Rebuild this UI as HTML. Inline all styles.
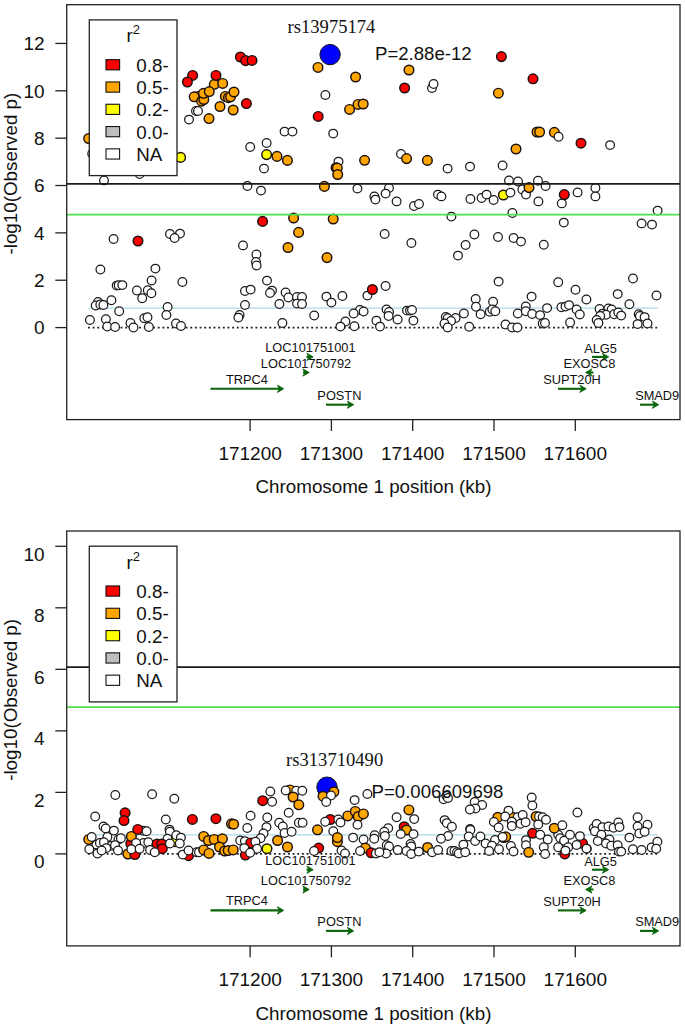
<!DOCTYPE html>
<html><head><meta charset="utf-8"><style>html,body{margin:0;padding:0;background:#fff;}svg{display:block;}</style></head>
<body><svg width="685" height="1028" viewBox="0 0 685 1028">
<rect width="685" height="1028" fill="#fff"/>
<line x1="88.5" x2="658" y1="308.18" y2="308.18" stroke="#add8e6" stroke-width="1.2"/>
<line x1="88.0" x2="658" y1="327.60" y2="327.60" stroke="#222" stroke-width="1.8" stroke-dasharray="1.9 2.75"/>
<circle cx="196.0" cy="111.0" r="4.35" fill="#fff" stroke="#1a1a1a" stroke-width="1.25"/>
<circle cx="198.0" cy="111.0" r="4.35" fill="#fff" stroke="#1a1a1a" stroke-width="1.25"/>
<circle cx="189.0" cy="119.6" r="4.35" fill="#fff" stroke="#1a1a1a" stroke-width="1.25"/>
<circle cx="92.2" cy="153.8" r="4.35" fill="#fff" stroke="#1a1a1a" stroke-width="1.25"/>
<circle cx="104.0" cy="180.4" r="4.35" fill="#fff" stroke="#1a1a1a" stroke-width="1.25"/>
<circle cx="139.6" cy="174.0" r="4.35" fill="#fff" stroke="#1a1a1a" stroke-width="1.25"/>
<circle cx="113.6" cy="239.0" r="4.35" fill="#fff" stroke="#1a1a1a" stroke-width="1.25"/>
<circle cx="170.0" cy="234.0" r="4.35" fill="#fff" stroke="#1a1a1a" stroke-width="1.25"/>
<circle cx="180.0" cy="233.6" r="4.35" fill="#fff" stroke="#1a1a1a" stroke-width="1.25"/>
<circle cx="174.6" cy="238.0" r="4.35" fill="#fff" stroke="#1a1a1a" stroke-width="1.25"/>
<circle cx="100.4" cy="269.4" r="4.35" fill="#fff" stroke="#1a1a1a" stroke-width="1.25"/>
<circle cx="155.4" cy="268.6" r="4.35" fill="#fff" stroke="#1a1a1a" stroke-width="1.25"/>
<circle cx="151.6" cy="280.5" r="4.35" fill="#fff" stroke="#1a1a1a" stroke-width="1.25"/>
<circle cx="182.4" cy="282.0" r="4.35" fill="#fff" stroke="#1a1a1a" stroke-width="1.25"/>
<circle cx="116.7" cy="285.6" r="4.35" fill="#fff" stroke="#1a1a1a" stroke-width="1.25"/>
<circle cx="118.7" cy="285.3" r="4.35" fill="#fff" stroke="#1a1a1a" stroke-width="1.25"/>
<circle cx="122.3" cy="285.1" r="4.35" fill="#fff" stroke="#1a1a1a" stroke-width="1.25"/>
<circle cx="136.9" cy="290.4" r="4.35" fill="#fff" stroke="#1a1a1a" stroke-width="1.25"/>
<circle cx="147.8" cy="290.2" r="4.35" fill="#fff" stroke="#1a1a1a" stroke-width="1.25"/>
<circle cx="151.4" cy="293.3" r="4.35" fill="#fff" stroke="#1a1a1a" stroke-width="1.25"/>
<circle cx="142.2" cy="298.2" r="4.35" fill="#fff" stroke="#1a1a1a" stroke-width="1.25"/>
<circle cx="111.4" cy="300.2" r="4.35" fill="#fff" stroke="#1a1a1a" stroke-width="1.25"/>
<circle cx="98.1" cy="302.0" r="4.35" fill="#fff" stroke="#1a1a1a" stroke-width="1.25"/>
<circle cx="95.7" cy="305.5" r="4.35" fill="#fff" stroke="#1a1a1a" stroke-width="1.25"/>
<circle cx="100.3" cy="304.5" r="4.35" fill="#fff" stroke="#1a1a1a" stroke-width="1.25"/>
<circle cx="103.4" cy="305.0" r="4.35" fill="#fff" stroke="#1a1a1a" stroke-width="1.25"/>
<circle cx="167.6" cy="307.0" r="4.35" fill="#fff" stroke="#1a1a1a" stroke-width="1.25"/>
<circle cx="119.2" cy="311.2" r="4.35" fill="#fff" stroke="#1a1a1a" stroke-width="1.25"/>
<circle cx="166.4" cy="315.0" r="4.35" fill="#fff" stroke="#1a1a1a" stroke-width="1.25"/>
<circle cx="89.9" cy="319.9" r="4.35" fill="#fff" stroke="#1a1a1a" stroke-width="1.25"/>
<circle cx="105.9" cy="319.3" r="4.35" fill="#fff" stroke="#1a1a1a" stroke-width="1.25"/>
<circle cx="107.3" cy="326.5" r="4.35" fill="#fff" stroke="#1a1a1a" stroke-width="1.25"/>
<circle cx="115.1" cy="327.0" r="4.35" fill="#fff" stroke="#1a1a1a" stroke-width="1.25"/>
<circle cx="130.5" cy="322.9" r="4.35" fill="#fff" stroke="#1a1a1a" stroke-width="1.25"/>
<circle cx="133.5" cy="327.5" r="4.35" fill="#fff" stroke="#1a1a1a" stroke-width="1.25"/>
<circle cx="144.3" cy="318.3" r="4.35" fill="#fff" stroke="#1a1a1a" stroke-width="1.25"/>
<circle cx="147.5" cy="317.3" r="4.35" fill="#fff" stroke="#1a1a1a" stroke-width="1.25"/>
<circle cx="148.9" cy="327.0" r="4.35" fill="#fff" stroke="#1a1a1a" stroke-width="1.25"/>
<circle cx="176.0" cy="323.4" r="4.35" fill="#fff" stroke="#1a1a1a" stroke-width="1.25"/>
<circle cx="181.0" cy="326.0" r="4.35" fill="#fff" stroke="#1a1a1a" stroke-width="1.25"/>
<circle cx="284.6" cy="131.6" r="4.35" fill="#fff" stroke="#1a1a1a" stroke-width="1.25"/>
<circle cx="292.4" cy="131.6" r="4.35" fill="#fff" stroke="#1a1a1a" stroke-width="1.25"/>
<circle cx="266.6" cy="143.0" r="4.35" fill="#fff" stroke="#1a1a1a" stroke-width="1.25"/>
<circle cx="250.2" cy="147.0" r="4.35" fill="#fff" stroke="#1a1a1a" stroke-width="1.25"/>
<circle cx="264.0" cy="168.6" r="4.35" fill="#fff" stroke="#1a1a1a" stroke-width="1.25"/>
<circle cx="432.0" cy="88.0" r="4.35" fill="#fff" stroke="#1a1a1a" stroke-width="1.25"/>
<circle cx="433.6" cy="84.0" r="4.35" fill="#fff" stroke="#1a1a1a" stroke-width="1.25"/>
<circle cx="325.4" cy="95.0" r="4.35" fill="#fff" stroke="#1a1a1a" stroke-width="1.25"/>
<circle cx="333.2" cy="133.6" r="4.35" fill="#fff" stroke="#1a1a1a" stroke-width="1.25"/>
<circle cx="338.5" cy="161.6" r="4.35" fill="#fff" stroke="#1a1a1a" stroke-width="1.25"/>
<circle cx="401.0" cy="154.0" r="4.35" fill="#fff" stroke="#1a1a1a" stroke-width="1.25"/>
<circle cx="357.4" cy="188.6" r="4.35" fill="#fff" stroke="#1a1a1a" stroke-width="1.25"/>
<circle cx="389.0" cy="188.0" r="4.35" fill="#fff" stroke="#1a1a1a" stroke-width="1.25"/>
<circle cx="385.6" cy="193.6" r="4.35" fill="#fff" stroke="#1a1a1a" stroke-width="1.25"/>
<circle cx="374.4" cy="196.4" r="4.35" fill="#fff" stroke="#1a1a1a" stroke-width="1.25"/>
<circle cx="375.4" cy="199.6" r="4.35" fill="#fff" stroke="#1a1a1a" stroke-width="1.25"/>
<circle cx="396.6" cy="201.4" r="4.35" fill="#fff" stroke="#1a1a1a" stroke-width="1.25"/>
<circle cx="414.0" cy="206.0" r="4.35" fill="#fff" stroke="#1a1a1a" stroke-width="1.25"/>
<circle cx="419.0" cy="204.0" r="4.35" fill="#fff" stroke="#1a1a1a" stroke-width="1.25"/>
<circle cx="247.4" cy="186.0" r="4.35" fill="#fff" stroke="#1a1a1a" stroke-width="1.25"/>
<circle cx="261.0" cy="190.6" r="4.35" fill="#fff" stroke="#1a1a1a" stroke-width="1.25"/>
<circle cx="243.0" cy="245.4" r="4.35" fill="#fff" stroke="#1a1a1a" stroke-width="1.25"/>
<circle cx="256.4" cy="254.4" r="4.35" fill="#fff" stroke="#1a1a1a" stroke-width="1.25"/>
<circle cx="256.0" cy="262.0" r="4.35" fill="#fff" stroke="#1a1a1a" stroke-width="1.25"/>
<circle cx="256.6" cy="265.4" r="4.35" fill="#fff" stroke="#1a1a1a" stroke-width="1.25"/>
<circle cx="267.0" cy="280.6" r="4.35" fill="#fff" stroke="#1a1a1a" stroke-width="1.25"/>
<circle cx="245.0" cy="291.0" r="4.35" fill="#fff" stroke="#1a1a1a" stroke-width="1.25"/>
<circle cx="250.6" cy="289.6" r="4.35" fill="#fff" stroke="#1a1a1a" stroke-width="1.25"/>
<circle cx="272.0" cy="290.6" r="4.35" fill="#fff" stroke="#1a1a1a" stroke-width="1.25"/>
<circle cx="270.0" cy="293.0" r="4.35" fill="#fff" stroke="#1a1a1a" stroke-width="1.25"/>
<circle cx="285.6" cy="292.4" r="4.35" fill="#fff" stroke="#1a1a1a" stroke-width="1.25"/>
<circle cx="288.4" cy="297.4" r="4.35" fill="#fff" stroke="#1a1a1a" stroke-width="1.25"/>
<circle cx="297.0" cy="297.0" r="4.35" fill="#fff" stroke="#1a1a1a" stroke-width="1.25"/>
<circle cx="302.0" cy="297.0" r="4.35" fill="#fff" stroke="#1a1a1a" stroke-width="1.25"/>
<circle cx="297.0" cy="303.6" r="4.35" fill="#fff" stroke="#1a1a1a" stroke-width="1.25"/>
<circle cx="302.0" cy="304.0" r="4.35" fill="#fff" stroke="#1a1a1a" stroke-width="1.25"/>
<circle cx="245.0" cy="305.0" r="4.35" fill="#fff" stroke="#1a1a1a" stroke-width="1.25"/>
<circle cx="279.4" cy="304.0" r="4.35" fill="#fff" stroke="#1a1a1a" stroke-width="1.25"/>
<circle cx="239.6" cy="315.0" r="4.35" fill="#fff" stroke="#1a1a1a" stroke-width="1.25"/>
<circle cx="238.4" cy="317.6" r="4.35" fill="#fff" stroke="#1a1a1a" stroke-width="1.25"/>
<circle cx="314.2" cy="315.4" r="4.35" fill="#fff" stroke="#1a1a1a" stroke-width="1.25"/>
<circle cx="282.4" cy="323.0" r="4.35" fill="#fff" stroke="#1a1a1a" stroke-width="1.25"/>
<circle cx="451.4" cy="216.6" r="4.35" fill="#fff" stroke="#1a1a1a" stroke-width="1.25"/>
<circle cx="384.6" cy="234.0" r="4.35" fill="#fff" stroke="#1a1a1a" stroke-width="1.25"/>
<circle cx="411.4" cy="243.0" r="4.35" fill="#fff" stroke="#1a1a1a" stroke-width="1.25"/>
<circle cx="385.6" cy="286.0" r="4.35" fill="#fff" stroke="#1a1a1a" stroke-width="1.25"/>
<circle cx="367.4" cy="295.6" r="4.35" fill="#fff" stroke="#1a1a1a" stroke-width="1.25"/>
<circle cx="326.4" cy="296.6" r="4.35" fill="#fff" stroke="#1a1a1a" stroke-width="1.25"/>
<circle cx="331.4" cy="302.6" r="4.35" fill="#fff" stroke="#1a1a1a" stroke-width="1.25"/>
<circle cx="342.4" cy="296.0" r="4.35" fill="#fff" stroke="#1a1a1a" stroke-width="1.25"/>
<circle cx="360.0" cy="310.0" r="4.35" fill="#fff" stroke="#1a1a1a" stroke-width="1.25"/>
<circle cx="363.6" cy="311.4" r="4.35" fill="#fff" stroke="#1a1a1a" stroke-width="1.25"/>
<circle cx="353.6" cy="313.4" r="4.35" fill="#fff" stroke="#1a1a1a" stroke-width="1.25"/>
<circle cx="386.6" cy="309.4" r="4.35" fill="#fff" stroke="#1a1a1a" stroke-width="1.25"/>
<circle cx="389.0" cy="312.0" r="4.35" fill="#fff" stroke="#1a1a1a" stroke-width="1.25"/>
<circle cx="388.6" cy="316.0" r="4.35" fill="#fff" stroke="#1a1a1a" stroke-width="1.25"/>
<circle cx="397.6" cy="319.4" r="4.35" fill="#fff" stroke="#1a1a1a" stroke-width="1.25"/>
<circle cx="407.0" cy="310.6" r="4.35" fill="#fff" stroke="#1a1a1a" stroke-width="1.25"/>
<circle cx="410.0" cy="310.6" r="4.35" fill="#fff" stroke="#1a1a1a" stroke-width="1.25"/>
<circle cx="412.0" cy="310.0" r="4.35" fill="#fff" stroke="#1a1a1a" stroke-width="1.25"/>
<circle cx="413.4" cy="320.6" r="4.35" fill="#fff" stroke="#1a1a1a" stroke-width="1.25"/>
<circle cx="345.4" cy="321.4" r="4.35" fill="#fff" stroke="#1a1a1a" stroke-width="1.25"/>
<circle cx="340.4" cy="326.6" r="4.35" fill="#fff" stroke="#1a1a1a" stroke-width="1.25"/>
<circle cx="354.4" cy="326.2" r="4.35" fill="#fff" stroke="#1a1a1a" stroke-width="1.25"/>
<circle cx="376.4" cy="320.6" r="4.35" fill="#fff" stroke="#1a1a1a" stroke-width="1.25"/>
<circle cx="380.0" cy="326.6" r="4.35" fill="#fff" stroke="#1a1a1a" stroke-width="1.25"/>
<circle cx="445.8" cy="316.9" r="4.35" fill="#fff" stroke="#1a1a1a" stroke-width="1.25"/>
<circle cx="447.7" cy="318.2" r="4.35" fill="#fff" stroke="#1a1a1a" stroke-width="1.25"/>
<circle cx="455.6" cy="317.9" r="4.35" fill="#fff" stroke="#1a1a1a" stroke-width="1.25"/>
<circle cx="451.0" cy="320.9" r="4.35" fill="#fff" stroke="#1a1a1a" stroke-width="1.25"/>
<circle cx="444.5" cy="323.5" r="4.35" fill="#fff" stroke="#1a1a1a" stroke-width="1.25"/>
<circle cx="447.7" cy="327.4" r="4.35" fill="#fff" stroke="#1a1a1a" stroke-width="1.25"/>
<circle cx="463.9" cy="313.4" r="4.35" fill="#fff" stroke="#1a1a1a" stroke-width="1.25"/>
<circle cx="469.2" cy="326.8" r="4.35" fill="#fff" stroke="#1a1a1a" stroke-width="1.25"/>
<circle cx="475.7" cy="298.9" r="4.35" fill="#fff" stroke="#1a1a1a" stroke-width="1.25"/>
<circle cx="476.0" cy="306.8" r="4.35" fill="#fff" stroke="#1a1a1a" stroke-width="1.25"/>
<circle cx="480.6" cy="314.3" r="4.35" fill="#fff" stroke="#1a1a1a" stroke-width="1.25"/>
<circle cx="493.1" cy="301.8" r="4.35" fill="#fff" stroke="#1a1a1a" stroke-width="1.25"/>
<circle cx="489.8" cy="311.7" r="4.35" fill="#fff" stroke="#1a1a1a" stroke-width="1.25"/>
<circle cx="492.4" cy="309.4" r="4.35" fill="#fff" stroke="#1a1a1a" stroke-width="1.25"/>
<circle cx="495.3" cy="311.3" r="4.35" fill="#fff" stroke="#1a1a1a" stroke-width="1.25"/>
<circle cx="505.5" cy="324.4" r="4.35" fill="#fff" stroke="#1a1a1a" stroke-width="1.25"/>
<circle cx="512.1" cy="327.4" r="4.35" fill="#fff" stroke="#1a1a1a" stroke-width="1.25"/>
<circle cx="517.4" cy="327.4" r="4.35" fill="#fff" stroke="#1a1a1a" stroke-width="1.25"/>
<circle cx="517.8" cy="313.4" r="4.35" fill="#fff" stroke="#1a1a1a" stroke-width="1.25"/>
<circle cx="610.1" cy="145.1" r="4.35" fill="#fff" stroke="#1a1a1a" stroke-width="1.25"/>
<circle cx="502.6" cy="165.5" r="4.35" fill="#fff" stroke="#1a1a1a" stroke-width="1.25"/>
<circle cx="509.0" cy="180.5" r="4.35" fill="#fff" stroke="#1a1a1a" stroke-width="1.25"/>
<circle cx="518.0" cy="181.5" r="4.35" fill="#fff" stroke="#1a1a1a" stroke-width="1.25"/>
<circle cx="538.0" cy="180.8" r="4.35" fill="#fff" stroke="#1a1a1a" stroke-width="1.25"/>
<circle cx="447.6" cy="168.6" r="4.35" fill="#fff" stroke="#1a1a1a" stroke-width="1.25"/>
<circle cx="470.0" cy="166.6" r="4.35" fill="#fff" stroke="#1a1a1a" stroke-width="1.25"/>
<circle cx="545.6" cy="186.0" r="4.35" fill="#fff" stroke="#1a1a1a" stroke-width="1.25"/>
<circle cx="522.4" cy="189.4" r="4.35" fill="#fff" stroke="#1a1a1a" stroke-width="1.25"/>
<circle cx="526.0" cy="194.6" r="4.35" fill="#fff" stroke="#1a1a1a" stroke-width="1.25"/>
<circle cx="438.0" cy="194.6" r="4.35" fill="#fff" stroke="#1a1a1a" stroke-width="1.25"/>
<circle cx="441.4" cy="196.4" r="4.35" fill="#fff" stroke="#1a1a1a" stroke-width="1.25"/>
<circle cx="470.4" cy="199.0" r="4.35" fill="#fff" stroke="#1a1a1a" stroke-width="1.25"/>
<circle cx="481.6" cy="198.0" r="4.35" fill="#fff" stroke="#1a1a1a" stroke-width="1.25"/>
<circle cx="486.6" cy="194.6" r="4.35" fill="#fff" stroke="#1a1a1a" stroke-width="1.25"/>
<circle cx="493.6" cy="200.0" r="4.35" fill="#fff" stroke="#1a1a1a" stroke-width="1.25"/>
<circle cx="538.4" cy="201.4" r="4.35" fill="#fff" stroke="#1a1a1a" stroke-width="1.25"/>
<circle cx="561.8" cy="203.4" r="4.35" fill="#fff" stroke="#1a1a1a" stroke-width="1.25"/>
<circle cx="512.4" cy="213.0" r="4.35" fill="#fff" stroke="#1a1a1a" stroke-width="1.25"/>
<circle cx="563.8" cy="222.6" r="4.35" fill="#fff" stroke="#1a1a1a" stroke-width="1.25"/>
<circle cx="474.4" cy="234.5" r="4.35" fill="#fff" stroke="#1a1a1a" stroke-width="1.25"/>
<circle cx="498.0" cy="237.0" r="4.35" fill="#fff" stroke="#1a1a1a" stroke-width="1.25"/>
<circle cx="513.6" cy="238.0" r="4.35" fill="#fff" stroke="#1a1a1a" stroke-width="1.25"/>
<circle cx="521.0" cy="241.6" r="4.35" fill="#fff" stroke="#1a1a1a" stroke-width="1.25"/>
<circle cx="465.6" cy="245.0" r="4.35" fill="#fff" stroke="#1a1a1a" stroke-width="1.25"/>
<circle cx="458.0" cy="255.6" r="4.35" fill="#fff" stroke="#1a1a1a" stroke-width="1.25"/>
<circle cx="543.8" cy="244.8" r="4.35" fill="#fff" stroke="#1a1a1a" stroke-width="1.25"/>
<circle cx="498.6" cy="281.6" r="4.35" fill="#fff" stroke="#1a1a1a" stroke-width="1.25"/>
<circle cx="558.2" cy="282.2" r="4.35" fill="#fff" stroke="#1a1a1a" stroke-width="1.25"/>
<circle cx="531.6" cy="296.6" r="4.35" fill="#fff" stroke="#1a1a1a" stroke-width="1.25"/>
<circle cx="577.6" cy="192.4" r="4.35" fill="#fff" stroke="#1a1a1a" stroke-width="1.25"/>
<circle cx="595.4" cy="188.0" r="4.35" fill="#fff" stroke="#1a1a1a" stroke-width="1.25"/>
<circle cx="595.4" cy="196.4" r="4.35" fill="#fff" stroke="#1a1a1a" stroke-width="1.25"/>
<circle cx="657.6" cy="210.6" r="4.35" fill="#fff" stroke="#1a1a1a" stroke-width="1.25"/>
<circle cx="641.6" cy="223.4" r="4.35" fill="#fff" stroke="#1a1a1a" stroke-width="1.25"/>
<circle cx="652.0" cy="224.6" r="4.35" fill="#fff" stroke="#1a1a1a" stroke-width="1.25"/>
<circle cx="633.0" cy="278.5" r="4.35" fill="#fff" stroke="#1a1a1a" stroke-width="1.25"/>
<circle cx="617.7" cy="294.1" r="4.35" fill="#fff" stroke="#1a1a1a" stroke-width="1.25"/>
<circle cx="656.5" cy="295.5" r="4.35" fill="#fff" stroke="#1a1a1a" stroke-width="1.25"/>
<circle cx="586.4" cy="299.5" r="4.35" fill="#fff" stroke="#1a1a1a" stroke-width="1.25"/>
<circle cx="575.5" cy="289.7" r="4.35" fill="#fff" stroke="#1a1a1a" stroke-width="1.25"/>
<circle cx="629.4" cy="304.3" r="4.35" fill="#fff" stroke="#1a1a1a" stroke-width="1.25"/>
<circle cx="599.6" cy="308.9" r="4.35" fill="#fff" stroke="#1a1a1a" stroke-width="1.25"/>
<circle cx="608.4" cy="308.4" r="4.35" fill="#fff" stroke="#1a1a1a" stroke-width="1.25"/>
<circle cx="611.6" cy="309.5" r="4.35" fill="#fff" stroke="#1a1a1a" stroke-width="1.25"/>
<circle cx="602.5" cy="313.6" r="4.35" fill="#fff" stroke="#1a1a1a" stroke-width="1.25"/>
<circle cx="606.0" cy="314.8" r="4.35" fill="#fff" stroke="#1a1a1a" stroke-width="1.25"/>
<circle cx="600.2" cy="316.0" r="4.35" fill="#fff" stroke="#1a1a1a" stroke-width="1.25"/>
<circle cx="614.2" cy="314.2" r="4.35" fill="#fff" stroke="#1a1a1a" stroke-width="1.25"/>
<circle cx="618.3" cy="312.4" r="4.35" fill="#fff" stroke="#1a1a1a" stroke-width="1.25"/>
<circle cx="621.2" cy="315.6" r="4.35" fill="#fff" stroke="#1a1a1a" stroke-width="1.25"/>
<circle cx="596.7" cy="320.0" r="4.35" fill="#fff" stroke="#1a1a1a" stroke-width="1.25"/>
<circle cx="598.4" cy="323.0" r="4.35" fill="#fff" stroke="#1a1a1a" stroke-width="1.25"/>
<circle cx="638.7" cy="314.2" r="4.35" fill="#fff" stroke="#1a1a1a" stroke-width="1.25"/>
<circle cx="639.9" cy="315.9" r="4.35" fill="#fff" stroke="#1a1a1a" stroke-width="1.25"/>
<circle cx="644.6" cy="317.1" r="4.35" fill="#fff" stroke="#1a1a1a" stroke-width="1.25"/>
<circle cx="637.6" cy="324.1" r="4.35" fill="#fff" stroke="#1a1a1a" stroke-width="1.25"/>
<circle cx="647.5" cy="323.5" r="4.35" fill="#fff" stroke="#1a1a1a" stroke-width="1.25"/>
<circle cx="525.8" cy="306.4" r="4.35" fill="#fff" stroke="#1a1a1a" stroke-width="1.25"/>
<circle cx="547.1" cy="308.1" r="4.35" fill="#fff" stroke="#1a1a1a" stroke-width="1.25"/>
<circle cx="525.8" cy="311.3" r="4.35" fill="#fff" stroke="#1a1a1a" stroke-width="1.25"/>
<circle cx="532.2" cy="314.0" r="4.35" fill="#fff" stroke="#1a1a1a" stroke-width="1.25"/>
<circle cx="540.1" cy="315.1" r="4.35" fill="#fff" stroke="#1a1a1a" stroke-width="1.25"/>
<circle cx="561.4" cy="307.2" r="4.35" fill="#fff" stroke="#1a1a1a" stroke-width="1.25"/>
<circle cx="565.5" cy="306.6" r="4.35" fill="#fff" stroke="#1a1a1a" stroke-width="1.25"/>
<circle cx="569.0" cy="305.1" r="4.35" fill="#fff" stroke="#1a1a1a" stroke-width="1.25"/>
<circle cx="576.6" cy="309.5" r="4.35" fill="#fff" stroke="#1a1a1a" stroke-width="1.25"/>
<circle cx="579.8" cy="314.5" r="4.35" fill="#fff" stroke="#1a1a1a" stroke-width="1.25"/>
<circle cx="542.7" cy="323.5" r="4.35" fill="#fff" stroke="#1a1a1a" stroke-width="1.25"/>
<circle cx="545.0" cy="323.0" r="4.35" fill="#fff" stroke="#1a1a1a" stroke-width="1.25"/>
<circle cx="570.1" cy="322.4" r="4.35" fill="#fff" stroke="#1a1a1a" stroke-width="1.25"/>
<circle cx="180.6" cy="157.4" r="4.8" fill="#ffff00" stroke="#1a1010" stroke-width="1.45"/>
<circle cx="266.6" cy="154.6" r="4.8" fill="#ffff00" stroke="#1a1010" stroke-width="1.45"/>
<circle cx="503.4" cy="195.0" r="4.8" fill="#ffff00" stroke="#1a1010" stroke-width="1.45"/>
<circle cx="214.3" cy="84.3" r="4.8" fill="#ffa500" stroke="#1a1010" stroke-width="1.45"/>
<circle cx="222.7" cy="83.4" r="4.8" fill="#ffa500" stroke="#1a1010" stroke-width="1.45"/>
<circle cx="198.1" cy="96.4" r="4.8" fill="#ffa500" stroke="#1a1010" stroke-width="1.45"/>
<circle cx="194.2" cy="96.8" r="4.8" fill="#ffa500" stroke="#1a1010" stroke-width="1.45"/>
<circle cx="201.6" cy="101.2" r="4.8" fill="#ffa500" stroke="#1a1010" stroke-width="1.45"/>
<circle cx="203.8" cy="99.5" r="4.8" fill="#ffa500" stroke="#1a1010" stroke-width="1.45"/>
<circle cx="203.4" cy="93.3" r="4.8" fill="#ffa500" stroke="#1a1010" stroke-width="1.45"/>
<circle cx="209.3" cy="91.6" r="4.8" fill="#ffa500" stroke="#1a1010" stroke-width="1.45"/>
<circle cx="225.3" cy="96.4" r="4.8" fill="#ffa500" stroke="#1a1010" stroke-width="1.45"/>
<circle cx="228.4" cy="97.7" r="4.8" fill="#ffa500" stroke="#1a1010" stroke-width="1.45"/>
<circle cx="230.5" cy="96.8" r="4.8" fill="#ffa500" stroke="#1a1010" stroke-width="1.45"/>
<circle cx="234.0" cy="92.0" r="4.8" fill="#ffa500" stroke="#1a1010" stroke-width="1.45"/>
<circle cx="220.0" cy="106.5" r="4.8" fill="#ffa500" stroke="#1a1010" stroke-width="1.45"/>
<circle cx="233.2" cy="110.0" r="4.8" fill="#ffa500" stroke="#1a1010" stroke-width="1.45"/>
<circle cx="209.0" cy="118.6" r="4.8" fill="#ffa500" stroke="#1a1010" stroke-width="1.45"/>
<circle cx="88.7" cy="138.5" r="4.8" fill="#ffa500" stroke="#1a1010" stroke-width="1.45"/>
<circle cx="277.0" cy="156.4" r="4.8" fill="#ffa500" stroke="#1a1010" stroke-width="1.45"/>
<circle cx="287.4" cy="160.4" r="4.8" fill="#ffa500" stroke="#1a1010" stroke-width="1.45"/>
<circle cx="318.0" cy="67.4" r="4.8" fill="#ffa500" stroke="#1a1010" stroke-width="1.45"/>
<circle cx="355.6" cy="77.0" r="4.8" fill="#ffa500" stroke="#1a1010" stroke-width="1.45"/>
<circle cx="409.0" cy="70.0" r="4.8" fill="#ffa500" stroke="#1a1010" stroke-width="1.45"/>
<circle cx="349.6" cy="109.4" r="4.8" fill="#ffa500" stroke="#1a1010" stroke-width="1.45"/>
<circle cx="358.0" cy="104.4" r="4.8" fill="#ffa500" stroke="#1a1010" stroke-width="1.45"/>
<circle cx="363.2" cy="104.0" r="4.8" fill="#ffa500" stroke="#1a1010" stroke-width="1.45"/>
<circle cx="336.1" cy="167.7" r="4.8" fill="#ffa500" stroke="#1a1010" stroke-width="1.45"/>
<circle cx="337.3" cy="168.1" r="4.8" fill="#ffa500" stroke="#1a1010" stroke-width="1.45"/>
<circle cx="337.7" cy="174.5" r="4.8" fill="#ffa500" stroke="#1a1010" stroke-width="1.45"/>
<circle cx="364.6" cy="160.3" r="4.8" fill="#ffa500" stroke="#1a1010" stroke-width="1.45"/>
<circle cx="406.6" cy="158.6" r="4.8" fill="#ffa500" stroke="#1a1010" stroke-width="1.45"/>
<circle cx="427.4" cy="160.4" r="4.8" fill="#ffa500" stroke="#1a1010" stroke-width="1.45"/>
<circle cx="324.4" cy="186.4" r="4.8" fill="#ffa500" stroke="#1a1010" stroke-width="1.45"/>
<circle cx="333.2" cy="219.0" r="4.8" fill="#ffa500" stroke="#1a1010" stroke-width="1.45"/>
<circle cx="293.6" cy="218.0" r="4.8" fill="#ffa500" stroke="#1a1010" stroke-width="1.45"/>
<circle cx="298.6" cy="232.4" r="4.8" fill="#ffa500" stroke="#1a1010" stroke-width="1.45"/>
<circle cx="288.0" cy="247.5" r="4.8" fill="#ffa500" stroke="#1a1010" stroke-width="1.45"/>
<circle cx="327.0" cy="257.6" r="4.8" fill="#ffa500" stroke="#1a1010" stroke-width="1.45"/>
<circle cx="498.4" cy="93.2" r="4.8" fill="#ffa500" stroke="#1a1010" stroke-width="1.45"/>
<circle cx="537.0" cy="132.0" r="4.8" fill="#ffa500" stroke="#1a1010" stroke-width="1.45"/>
<circle cx="539.6" cy="132.0" r="4.8" fill="#ffa500" stroke="#1a1010" stroke-width="1.45"/>
<circle cx="554.4" cy="132.4" r="4.8" fill="#ffa500" stroke="#1a1010" stroke-width="1.45"/>
<circle cx="516.0" cy="149.0" r="4.8" fill="#ffa500" stroke="#1a1010" stroke-width="1.45"/>
<circle cx="529.0" cy="187.6" r="4.8" fill="#ffa500" stroke="#1a1010" stroke-width="1.45"/>
<circle cx="240.4" cy="57.0" r="4.8" fill="#ff0000" stroke="#1a1010" stroke-width="1.45"/>
<circle cx="245.6" cy="60.6" r="4.8" fill="#ff0000" stroke="#1a1010" stroke-width="1.45"/>
<circle cx="252.0" cy="60.4" r="4.8" fill="#ff0000" stroke="#1a1010" stroke-width="1.45"/>
<circle cx="192.6" cy="75.4" r="4.8" fill="#ff0000" stroke="#1a1010" stroke-width="1.45"/>
<circle cx="187.4" cy="82.0" r="4.8" fill="#ff0000" stroke="#1a1010" stroke-width="1.45"/>
<circle cx="216.0" cy="75.4" r="4.8" fill="#ff0000" stroke="#1a1010" stroke-width="1.45"/>
<circle cx="246.4" cy="103.6" r="4.8" fill="#ff0000" stroke="#1a1010" stroke-width="1.45"/>
<circle cx="138.0" cy="241.0" r="4.8" fill="#ff0000" stroke="#1a1010" stroke-width="1.45"/>
<circle cx="318.2" cy="116.4" r="4.8" fill="#ff0000" stroke="#1a1010" stroke-width="1.45"/>
<circle cx="404.6" cy="88.0" r="4.8" fill="#ff0000" stroke="#1a1010" stroke-width="1.45"/>
<circle cx="262.6" cy="221.4" r="4.8" fill="#ff0000" stroke="#1a1010" stroke-width="1.45"/>
<circle cx="372.4" cy="289.5" r="4.8" fill="#ff0000" stroke="#1a1010" stroke-width="1.45"/>
<circle cx="501.4" cy="56.6" r="4.8" fill="#ff0000" stroke="#1a1010" stroke-width="1.45"/>
<circle cx="533.0" cy="78.8" r="4.8" fill="#ff0000" stroke="#1a1010" stroke-width="1.45"/>
<circle cx="581.0" cy="143.2" r="4.8" fill="#ff0000" stroke="#1a1010" stroke-width="1.45"/>
<circle cx="564.3" cy="194.6" r="4.8" fill="#ff0000" stroke="#1a1010" stroke-width="1.45"/>
<circle cx="558.6" cy="136.8" r="4.35" fill="#fff" stroke="#1a1a1a" stroke-width="1.25"/>
<circle cx="510.4" cy="192.6" r="4.35" fill="#fff" stroke="#1a1a1a" stroke-width="1.25"/>
<line x1="66.7" x2="680.0" y1="183.86" y2="183.86" stroke="#1a1a1a" stroke-width="1.8"/>
<line x1="66.7" x2="680.0" y1="214.65" y2="214.65" stroke="#4fe04f" stroke-width="1.9"/>
<circle cx="330.1" cy="54.6" r="10.2" fill="#0000ff" stroke="#111" stroke-width="1"/>
<rect x="89.3" y="19.9" width="87.7" height="155.7" fill="#fff" stroke="#222" stroke-width="1.3"/>
<text x="126.6" y="42.3" font-family='"Liberation Sans", sans-serif' font-size="18.5" fill="#111">r</text>
<text x="132.8" y="34.2" font-family='"Liberation Sans", sans-serif' font-size="13" fill="#111">2</text>
<rect x="106" y="59.65" width="13.6" height="10.2" fill="#ff0000" stroke="#111" stroke-width="1.1"/>
<text x="136.3" y="71.85" font-family='"Liberation Sans", sans-serif' font-size="18.8" fill="#111">0.8-</text>
<rect x="106" y="81.95" width="13.6" height="10.2" fill="#ffa500" stroke="#111" stroke-width="1.1"/>
<text x="136.3" y="94.15" font-family='"Liberation Sans", sans-serif' font-size="18.8" fill="#111">0.5-</text>
<rect x="106" y="104.25" width="13.6" height="10.2" fill="#ffff00" stroke="#111" stroke-width="1.1"/>
<text x="136.3" y="116.45" font-family='"Liberation Sans", sans-serif' font-size="18.8" fill="#111">0.2-</text>
<rect x="106" y="126.55" width="13.6" height="10.2" fill="#bebebe" stroke="#111" stroke-width="1.1"/>
<text x="136.3" y="138.75" font-family='"Liberation Sans", sans-serif' font-size="18.8" fill="#111">0.0-</text>
<rect x="106" y="148.85" width="13.6" height="10.2" fill="#ffffff" stroke="#111" stroke-width="1.1"/>
<text x="136.3" y="161.05" font-family='"Liberation Sans", sans-serif' font-size="18.8" fill="#111">NA</text>
<rect x="66.7" y="4.7" width="613.3" height="414.90000000000003" fill="none" stroke="#222" stroke-width="1.3"/>
<line x1="55.3" x2="66.7" y1="327.60" y2="327.60" stroke="#222" stroke-width="1.3"/>
<text x="44.6" y="334.40" text-anchor="end" font-family='"Liberation Sans", sans-serif' font-size="19" fill="#111">0</text>
<line x1="55.3" x2="66.7" y1="280.24" y2="280.24" stroke="#222" stroke-width="1.3"/>
<text x="44.6" y="287.04" text-anchor="end" font-family='"Liberation Sans", sans-serif' font-size="19" fill="#111">2</text>
<line x1="55.3" x2="66.7" y1="232.88" y2="232.88" stroke="#222" stroke-width="1.3"/>
<text x="44.6" y="239.68" text-anchor="end" font-family='"Liberation Sans", sans-serif' font-size="19" fill="#111">4</text>
<line x1="55.3" x2="66.7" y1="185.52" y2="185.52" stroke="#222" stroke-width="1.3"/>
<text x="44.6" y="192.32" text-anchor="end" font-family='"Liberation Sans", sans-serif' font-size="19" fill="#111">6</text>
<line x1="55.3" x2="66.7" y1="138.16" y2="138.16" stroke="#222" stroke-width="1.3"/>
<text x="44.6" y="144.96" text-anchor="end" font-family='"Liberation Sans", sans-serif' font-size="19" fill="#111">8</text>
<line x1="55.3" x2="66.7" y1="90.80" y2="90.80" stroke="#222" stroke-width="1.3"/>
<text x="44.6" y="97.60" text-anchor="end" font-family='"Liberation Sans", sans-serif' font-size="19" fill="#111">10</text>
<line x1="55.3" x2="66.7" y1="43.44" y2="43.44" stroke="#222" stroke-width="1.3"/>
<text x="44.6" y="50.24" text-anchor="end" font-family='"Liberation Sans", sans-serif' font-size="19" fill="#111">12</text>
<line x1="250.10" x2="250.10" y1="419.6" y2="431" stroke="#222" stroke-width="1.3"/>
<text x="250.10" y="459.8" text-anchor="middle" font-family='"Liberation Sans", sans-serif' font-size="19" fill="#111">171200</text>
<line x1="331.40" x2="331.40" y1="419.6" y2="431" stroke="#222" stroke-width="1.3"/>
<text x="331.40" y="459.8" text-anchor="middle" font-family='"Liberation Sans", sans-serif' font-size="19" fill="#111">171300</text>
<line x1="412.70" x2="412.70" y1="419.6" y2="431" stroke="#222" stroke-width="1.3"/>
<text x="412.70" y="459.8" text-anchor="middle" font-family='"Liberation Sans", sans-serif' font-size="19" fill="#111">171400</text>
<line x1="494.00" x2="494.00" y1="419.6" y2="431" stroke="#222" stroke-width="1.3"/>
<text x="494.00" y="459.8" text-anchor="middle" font-family='"Liberation Sans", sans-serif' font-size="19" fill="#111">171500</text>
<line x1="575.30" x2="575.30" y1="419.6" y2="431" stroke="#222" stroke-width="1.3"/>
<text x="575.30" y="459.8" text-anchor="middle" font-family='"Liberation Sans", sans-serif' font-size="19" fill="#111">171600</text>
<text x="373.5" y="493.4" text-anchor="middle" font-family='"Liberation Sans", sans-serif' font-size="18.8" fill="#111">Chromosome 1 position (kb)</text>
<text transform="translate(17.1 173.6) rotate(-90)" text-anchor="middle" font-family='"Liberation Sans", sans-serif' font-size="18.8" fill="#111">-log10(Observed p)</text>
<text x="287.6" y="33.1" font-family='"Liberation Serif", serif' font-size="18.6" fill="#111">rs13975174</text>
<text x="375" y="59.7" font-family='"Liberation Sans", sans-serif' font-size="18.6" fill="#111">P=2.88e-12</text>
<line x1="210.5" x2="281" y1="388.8" y2="388.8" stroke="#0a650a" stroke-width="2.1"/><polygon points="277.4,385.2 283.7,388.8 277.4,392.40000000000003 279.4,388.8" fill="#0a650a" stroke="#0a650a" stroke-width="0.9" stroke-linejoin="round"/>
<text x="247" y="383.6" text-anchor="middle" font-family='"Liberation Sans", sans-serif' font-size="12.8" fill="#111">TRPC4</text>
<line x1="306.5" x2="310.5" y1="356.9" y2="356.9" stroke="#0a650a" stroke-width="2.1"/><polygon points="306.9,353.29999999999995 313.2,356.9 306.9,360.5 308.9,356.9" fill="#0a650a" stroke="#0a650a" stroke-width="0.9" stroke-linejoin="round"/>
<text x="310.4" y="352.4" text-anchor="middle" font-family='"Liberation Sans", sans-serif' font-size="12.8" fill="#111">LOC101751001</text>
<line x1="303" x2="306.5" y1="372.5" y2="372.5" stroke="#0a650a" stroke-width="2.1"/><polygon points="302.9,368.9 309.2,372.5 302.9,376.1 304.9,372.5" fill="#0a650a" stroke="#0a650a" stroke-width="0.9" stroke-linejoin="round"/>
<text x="306" y="368.1" text-anchor="middle" font-family='"Liberation Sans", sans-serif' font-size="12.8" fill="#111">LOC101750792</text>
<line x1="326" x2="351" y1="404.7" y2="404.7" stroke="#0a650a" stroke-width="2.1"/><polygon points="347.4,401.09999999999997 353.7,404.7 347.4,408.3 349.4,404.7" fill="#0a650a" stroke="#0a650a" stroke-width="0.9" stroke-linejoin="round"/>
<text x="339.4" y="399.8" text-anchor="middle" font-family='"Liberation Sans", sans-serif' font-size="12.8" fill="#111">POSTN</text>
<line x1="592" x2="606" y1="356.9" y2="356.9" stroke="#0a650a" stroke-width="2.1"/><polygon points="602.4,353.29999999999995 608.7,356.9 602.4,360.5 604.4,356.9" fill="#0a650a" stroke="#0a650a" stroke-width="0.9" stroke-linejoin="round"/>
<text x="600.5" y="352.79999999999995" text-anchor="middle" font-family='"Liberation Sans", sans-serif' font-size="12.8" fill="#111">ALG5</text>
<line x1="588.3" x2="593.4" y1="372.5" y2="372.5" stroke="#0a650a" stroke-width="2.1"/><polygon points="591.9,368.9 585.5999999999999,372.5 591.9,376.1 589.9,372.5" fill="#0a650a" stroke="#0a650a" stroke-width="0.9" stroke-linejoin="round"/>
<text x="589.5" y="368.0" text-anchor="middle" font-family='"Liberation Sans", sans-serif' font-size="12.8" fill="#111">EXOSC8</text>
<line x1="558" x2="583.5" y1="388.8" y2="388.8" stroke="#0a650a" stroke-width="2.1"/><polygon points="579.9,385.2 586.2,388.8 579.9,392.40000000000003 581.9,388.8" fill="#0a650a" stroke="#0a650a" stroke-width="0.9" stroke-linejoin="round"/>
<text x="572" y="384.2" text-anchor="middle" font-family='"Liberation Sans", sans-serif' font-size="12.8" fill="#111">SUPT20H</text>
<line x1="640" x2="656" y1="404.7" y2="404.7" stroke="#0a650a" stroke-width="2.1"/><polygon points="652.4,401.09999999999997 658.7,404.7 652.4,408.3 654.4,404.7" fill="#0a650a" stroke="#0a650a" stroke-width="0.9" stroke-linejoin="round"/>
<text x="657.2" y="399.7" text-anchor="middle" font-family='"Liberation Sans", sans-serif' font-size="12.8" fill="#111">SMAD9</text>
<line x1="88.5" x2="658" y1="834.83" y2="834.83" stroke="#add8e6" stroke-width="1.2"/>
<line x1="88.0" x2="658" y1="853.90" y2="853.90" stroke="#222" stroke-width="1.8" stroke-dasharray="1.9 2.75"/>
<circle cx="327" cy="787.2" r="10.2" fill="#0000ff" stroke="#111" stroke-width="1"/>
<circle cx="290.0" cy="789.9" r="4.8" fill="#ffa500" stroke="#1a1010" stroke-width="1.45"/>
<circle cx="404.2" cy="826.7" r="4.8" fill="#ff0000" stroke="#1a1010" stroke-width="1.45"/>
<circle cx="582.5" cy="843.3" r="4.8" fill="#ff0000" stroke="#1a1010" stroke-width="1.45"/>
<circle cx="130.8" cy="843.5" r="4.8" fill="#ff0000" stroke="#1a1010" stroke-width="1.45"/>
<circle cx="175.1" cy="841.7" r="4.8" fill="#ffff00" stroke="#1a1010" stroke-width="1.45"/>
<circle cx="188.5" cy="855.7" r="4.8" fill="#ff0000" stroke="#1a1010" stroke-width="1.45"/>
<circle cx="115.3" cy="795.0" r="4.35" fill="#fff" stroke="#1a1a1a" stroke-width="1.25"/>
<circle cx="152.1" cy="794.3" r="4.35" fill="#fff" stroke="#1a1a1a" stroke-width="1.25"/>
<circle cx="95.2" cy="816.5" r="4.35" fill="#fff" stroke="#1a1a1a" stroke-width="1.25"/>
<circle cx="165.8" cy="819.5" r="4.35" fill="#fff" stroke="#1a1a1a" stroke-width="1.25"/>
<circle cx="174.3" cy="798.7" r="4.35" fill="#fff" stroke="#1a1a1a" stroke-width="1.25"/>
<circle cx="250.6" cy="815.7" r="4.35" fill="#fff" stroke="#1a1a1a" stroke-width="1.25"/>
<circle cx="247.3" cy="827.9" r="4.35" fill="#fff" stroke="#1a1a1a" stroke-width="1.25"/>
<circle cx="169.5" cy="829.6" r="4.35" fill="#fff" stroke="#1a1a1a" stroke-width="1.25"/>
<circle cx="270.3" cy="791.5" r="4.35" fill="#fff" stroke="#1a1a1a" stroke-width="1.25"/>
<circle cx="272.1" cy="801.8" r="4.35" fill="#fff" stroke="#1a1a1a" stroke-width="1.25"/>
<circle cx="285.7" cy="790.4" r="4.35" fill="#fff" stroke="#1a1a1a" stroke-width="1.25"/>
<circle cx="296.2" cy="790.8" r="4.35" fill="#fff" stroke="#1a1a1a" stroke-width="1.25"/>
<circle cx="302.3" cy="790.8" r="4.35" fill="#fff" stroke="#1a1a1a" stroke-width="1.25"/>
<circle cx="288.7" cy="812.7" r="4.35" fill="#fff" stroke="#1a1a1a" stroke-width="1.25"/>
<circle cx="267.3" cy="817.5" r="4.35" fill="#fff" stroke="#1a1a1a" stroke-width="1.25"/>
<circle cx="279.2" cy="822.7" r="4.35" fill="#fff" stroke="#1a1a1a" stroke-width="1.25"/>
<circle cx="298.9" cy="822.7" r="4.35" fill="#fff" stroke="#1a1a1a" stroke-width="1.25"/>
<circle cx="302.6" cy="822.7" r="4.35" fill="#fff" stroke="#1a1a1a" stroke-width="1.25"/>
<circle cx="367.4" cy="793.9" r="4.35" fill="#fff" stroke="#1a1a1a" stroke-width="1.25"/>
<circle cx="354.6" cy="800.1" r="4.35" fill="#fff" stroke="#1a1a1a" stroke-width="1.25"/>
<circle cx="396.6" cy="817.2" r="4.35" fill="#fff" stroke="#1a1a1a" stroke-width="1.25"/>
<circle cx="388.2" cy="828.2" r="4.35" fill="#fff" stroke="#1a1a1a" stroke-width="1.25"/>
<circle cx="443.6" cy="799.3" r="4.35" fill="#fff" stroke="#1a1a1a" stroke-width="1.25"/>
<circle cx="446.5" cy="796.0" r="4.35" fill="#fff" stroke="#1a1a1a" stroke-width="1.25"/>
<circle cx="448.0" cy="798.0" r="4.35" fill="#fff" stroke="#1a1a1a" stroke-width="1.25"/>
<circle cx="474.7" cy="802.0" r="4.35" fill="#fff" stroke="#1a1a1a" stroke-width="1.25"/>
<circle cx="482.1" cy="805.0" r="4.35" fill="#fff" stroke="#1a1a1a" stroke-width="1.25"/>
<circle cx="475.5" cy="808.5" r="4.35" fill="#fff" stroke="#1a1a1a" stroke-width="1.25"/>
<circle cx="469.9" cy="809.4" r="4.35" fill="#fff" stroke="#1a1a1a" stroke-width="1.25"/>
<circle cx="444.6" cy="820.1" r="4.35" fill="#fff" stroke="#1a1a1a" stroke-width="1.25"/>
<circle cx="446.8" cy="823.1" r="4.35" fill="#fff" stroke="#1a1a1a" stroke-width="1.25"/>
<circle cx="451.9" cy="826.7" r="4.35" fill="#fff" stroke="#1a1a1a" stroke-width="1.25"/>
<circle cx="470.1" cy="828.9" r="4.35" fill="#fff" stroke="#1a1a1a" stroke-width="1.25"/>
<circle cx="531.7" cy="797.5" r="4.35" fill="#fff" stroke="#1a1a1a" stroke-width="1.25"/>
<circle cx="532.4" cy="805.5" r="4.35" fill="#fff" stroke="#1a1a1a" stroke-width="1.25"/>
<circle cx="577.4" cy="812.5" r="4.35" fill="#fff" stroke="#1a1a1a" stroke-width="1.25"/>
<circle cx="593.7" cy="828.2" r="4.35" fill="#fff" stroke="#1a1a1a" stroke-width="1.25"/>
<circle cx="596.7" cy="824.0" r="4.35" fill="#fff" stroke="#1a1a1a" stroke-width="1.25"/>
<circle cx="594.9" cy="831.2" r="4.35" fill="#fff" stroke="#1a1a1a" stroke-width="1.25"/>
<circle cx="602.5" cy="827.1" r="4.35" fill="#fff" stroke="#1a1a1a" stroke-width="1.25"/>
<circle cx="608.4" cy="826.5" r="4.35" fill="#fff" stroke="#1a1a1a" stroke-width="1.25"/>
<circle cx="613.6" cy="827.7" r="4.35" fill="#fff" stroke="#1a1a1a" stroke-width="1.25"/>
<circle cx="618.3" cy="822.4" r="4.35" fill="#fff" stroke="#1a1a1a" stroke-width="1.25"/>
<circle cx="619.5" cy="827.1" r="4.35" fill="#fff" stroke="#1a1a1a" stroke-width="1.25"/>
<circle cx="601.4" cy="834.7" r="4.35" fill="#fff" stroke="#1a1a1a" stroke-width="1.25"/>
<circle cx="597.8" cy="841.1" r="4.35" fill="#fff" stroke="#1a1a1a" stroke-width="1.25"/>
<circle cx="609.5" cy="839.4" r="4.35" fill="#fff" stroke="#1a1a1a" stroke-width="1.25"/>
<circle cx="606.0" cy="843.5" r="4.35" fill="#fff" stroke="#1a1a1a" stroke-width="1.25"/>
<circle cx="611.3" cy="845.8" r="4.35" fill="#fff" stroke="#1a1a1a" stroke-width="1.25"/>
<circle cx="617.7" cy="845.2" r="4.35" fill="#fff" stroke="#1a1a1a" stroke-width="1.25"/>
<circle cx="618.9" cy="851.6" r="4.35" fill="#fff" stroke="#1a1a1a" stroke-width="1.25"/>
<circle cx="621.2" cy="851.6" r="4.35" fill="#fff" stroke="#1a1a1a" stroke-width="1.25"/>
<circle cx="637.6" cy="817.2" r="4.35" fill="#fff" stroke="#1a1a1a" stroke-width="1.25"/>
<circle cx="637.6" cy="826.5" r="4.35" fill="#fff" stroke="#1a1a1a" stroke-width="1.25"/>
<circle cx="647.5" cy="824.8" r="4.35" fill="#fff" stroke="#1a1a1a" stroke-width="1.25"/>
<circle cx="639.3" cy="833.5" r="4.35" fill="#fff" stroke="#1a1a1a" stroke-width="1.25"/>
<circle cx="644.6" cy="831.8" r="4.35" fill="#fff" stroke="#1a1a1a" stroke-width="1.25"/>
<circle cx="629.4" cy="837.6" r="4.35" fill="#fff" stroke="#1a1a1a" stroke-width="1.25"/>
<circle cx="632.9" cy="849.3" r="4.35" fill="#fff" stroke="#1a1a1a" stroke-width="1.25"/>
<circle cx="641.6" cy="849.9" r="4.35" fill="#fff" stroke="#1a1a1a" stroke-width="1.25"/>
<circle cx="651.6" cy="847.5" r="4.35" fill="#fff" stroke="#1a1a1a" stroke-width="1.25"/>
<circle cx="657.4" cy="841.7" r="4.35" fill="#fff" stroke="#1a1a1a" stroke-width="1.25"/>
<circle cx="656.2" cy="848.7" r="4.35" fill="#fff" stroke="#1a1a1a" stroke-width="1.25"/>
<circle cx="586.8" cy="848.7" r="4.35" fill="#fff" stroke="#1a1a1a" stroke-width="1.25"/>
<circle cx="547.7" cy="839.4" r="4.35" fill="#fff" stroke="#1a1a1a" stroke-width="1.25"/>
<circle cx="526.0" cy="840.1" r="4.35" fill="#fff" stroke="#1a1a1a" stroke-width="1.25"/>
<circle cx="526.0" cy="845.3" r="4.35" fill="#fff" stroke="#1a1a1a" stroke-width="1.25"/>
<circle cx="510.9" cy="846.0" r="4.35" fill="#fff" stroke="#1a1a1a" stroke-width="1.25"/>
<circle cx="513.5" cy="851.5" r="4.35" fill="#fff" stroke="#1a1a1a" stroke-width="1.25"/>
<circle cx="543.8" cy="847.3" r="4.35" fill="#fff" stroke="#1a1a1a" stroke-width="1.25"/>
<circle cx="545.1" cy="853.9" r="4.35" fill="#fff" stroke="#1a1a1a" stroke-width="1.25"/>
<circle cx="558.2" cy="834.8" r="4.35" fill="#fff" stroke="#1a1a1a" stroke-width="1.25"/>
<circle cx="560.2" cy="838.1" r="4.35" fill="#fff" stroke="#1a1a1a" stroke-width="1.25"/>
<circle cx="564.1" cy="840.7" r="4.35" fill="#fff" stroke="#1a1a1a" stroke-width="1.25"/>
<circle cx="570.0" cy="834.8" r="4.35" fill="#fff" stroke="#1a1a1a" stroke-width="1.25"/>
<circle cx="558.2" cy="847.3" r="4.35" fill="#fff" stroke="#1a1a1a" stroke-width="1.25"/>
<circle cx="568.1" cy="847.3" r="4.35" fill="#fff" stroke="#1a1a1a" stroke-width="1.25"/>
<circle cx="579.9" cy="836.1" r="4.35" fill="#fff" stroke="#1a1a1a" stroke-width="1.25"/>
<circle cx="576.6" cy="844.9" r="4.35" fill="#fff" stroke="#1a1a1a" stroke-width="1.25"/>
<circle cx="103.5" cy="826.5" r="4.35" fill="#fff" stroke="#1a1a1a" stroke-width="1.25"/>
<circle cx="105.7" cy="828.5" r="4.35" fill="#fff" stroke="#1a1a1a" stroke-width="1.25"/>
<circle cx="113.9" cy="830.6" r="4.35" fill="#fff" stroke="#1a1a1a" stroke-width="1.25"/>
<circle cx="107.4" cy="837.0" r="4.35" fill="#fff" stroke="#1a1a1a" stroke-width="1.25"/>
<circle cx="118.5" cy="839.4" r="4.35" fill="#fff" stroke="#1a1a1a" stroke-width="1.25"/>
<circle cx="120.9" cy="838.2" r="4.35" fill="#fff" stroke="#1a1a1a" stroke-width="1.25"/>
<circle cx="96.4" cy="844.6" r="4.35" fill="#fff" stroke="#1a1a1a" stroke-width="1.25"/>
<circle cx="99.9" cy="842.9" r="4.35" fill="#fff" stroke="#1a1a1a" stroke-width="1.25"/>
<circle cx="103.9" cy="842.3" r="4.35" fill="#fff" stroke="#1a1a1a" stroke-width="1.25"/>
<circle cx="111.5" cy="845.8" r="4.35" fill="#fff" stroke="#1a1a1a" stroke-width="1.25"/>
<circle cx="106.3" cy="848.1" r="4.35" fill="#fff" stroke="#1a1a1a" stroke-width="1.25"/>
<circle cx="115.0" cy="845.2" r="4.35" fill="#fff" stroke="#1a1a1a" stroke-width="1.25"/>
<circle cx="89.3" cy="849.3" r="4.35" fill="#fff" stroke="#1a1a1a" stroke-width="1.25"/>
<circle cx="97.5" cy="853.4" r="4.35" fill="#fff" stroke="#1a1a1a" stroke-width="1.25"/>
<circle cx="101.6" cy="850.5" r="4.35" fill="#fff" stroke="#1a1a1a" stroke-width="1.25"/>
<circle cx="118.0" cy="850.5" r="4.35" fill="#fff" stroke="#1a1a1a" stroke-width="1.25"/>
<circle cx="143.6" cy="842.9" r="4.35" fill="#fff" stroke="#1a1a1a" stroke-width="1.25"/>
<circle cx="148.3" cy="842.3" r="4.35" fill="#fff" stroke="#1a1a1a" stroke-width="1.25"/>
<circle cx="169.9" cy="831.8" r="4.35" fill="#fff" stroke="#1a1a1a" stroke-width="1.25"/>
<circle cx="176.3" cy="835.3" r="4.35" fill="#fff" stroke="#1a1a1a" stroke-width="1.25"/>
<circle cx="180.9" cy="837.6" r="4.35" fill="#fff" stroke="#1a1a1a" stroke-width="1.25"/>
<circle cx="167.5" cy="838.8" r="4.35" fill="#fff" stroke="#1a1a1a" stroke-width="1.25"/>
<circle cx="182.7" cy="854.6" r="4.35" fill="#fff" stroke="#1a1a1a" stroke-width="1.25"/>
<circle cx="196.7" cy="852.2" r="4.35" fill="#fff" stroke="#1a1a1a" stroke-width="1.25"/>
<circle cx="199.0" cy="852.2" r="4.35" fill="#fff" stroke="#1a1a1a" stroke-width="1.25"/>
<circle cx="266.5" cy="827.1" r="4.35" fill="#fff" stroke="#1a1a1a" stroke-width="1.25"/>
<circle cx="263.5" cy="833.5" r="4.35" fill="#fff" stroke="#1a1a1a" stroke-width="1.25"/>
<circle cx="260.6" cy="838.2" r="4.35" fill="#fff" stroke="#1a1a1a" stroke-width="1.25"/>
<circle cx="282.8" cy="826.5" r="4.35" fill="#fff" stroke="#1a1a1a" stroke-width="1.25"/>
<circle cx="284.6" cy="832.9" r="4.35" fill="#fff" stroke="#1a1a1a" stroke-width="1.25"/>
<circle cx="291.6" cy="831.8" r="4.35" fill="#fff" stroke="#1a1a1a" stroke-width="1.25"/>
<circle cx="240.2" cy="840.5" r="4.35" fill="#fff" stroke="#1a1a1a" stroke-width="1.25"/>
<circle cx="244.9" cy="841.1" r="4.35" fill="#fff" stroke="#1a1a1a" stroke-width="1.25"/>
<circle cx="333.3" cy="831.2" r="4.35" fill="#fff" stroke="#1a1a1a" stroke-width="1.25"/>
<circle cx="353.1" cy="837.6" r="4.35" fill="#fff" stroke="#1a1a1a" stroke-width="1.25"/>
<circle cx="363.6" cy="839.4" r="4.35" fill="#fff" stroke="#1a1a1a" stroke-width="1.25"/>
<circle cx="374.7" cy="835.3" r="4.35" fill="#fff" stroke="#1a1a1a" stroke-width="1.25"/>
<circle cx="374.2" cy="838.8" r="4.35" fill="#fff" stroke="#1a1a1a" stroke-width="1.25"/>
<circle cx="341.5" cy="850.5" r="4.35" fill="#fff" stroke="#1a1a1a" stroke-width="1.25"/>
<circle cx="345.0" cy="853.4" r="4.35" fill="#fff" stroke="#1a1a1a" stroke-width="1.25"/>
<circle cx="384.3" cy="831.8" r="4.35" fill="#fff" stroke="#1a1a1a" stroke-width="1.25"/>
<circle cx="384.9" cy="835.9" r="4.35" fill="#fff" stroke="#1a1a1a" stroke-width="1.25"/>
<circle cx="448.0" cy="835.9" r="4.35" fill="#fff" stroke="#1a1a1a" stroke-width="1.25"/>
<circle cx="441.0" cy="838.8" r="4.35" fill="#fff" stroke="#1a1a1a" stroke-width="1.25"/>
<circle cx="386.7" cy="845.2" r="4.35" fill="#fff" stroke="#1a1a1a" stroke-width="1.25"/>
<circle cx="389.0" cy="846.4" r="4.35" fill="#fff" stroke="#1a1a1a" stroke-width="1.25"/>
<circle cx="386.1" cy="853.4" r="4.35" fill="#fff" stroke="#1a1a1a" stroke-width="1.25"/>
<circle cx="397.8" cy="849.9" r="4.35" fill="#fff" stroke="#1a1a1a" stroke-width="1.25"/>
<circle cx="410.6" cy="844.0" r="4.35" fill="#fff" stroke="#1a1a1a" stroke-width="1.25"/>
<circle cx="411.2" cy="846.4" r="4.35" fill="#fff" stroke="#1a1a1a" stroke-width="1.25"/>
<circle cx="406.5" cy="851.0" r="4.35" fill="#fff" stroke="#1a1a1a" stroke-width="1.25"/>
<circle cx="411.2" cy="854.0" r="4.35" fill="#fff" stroke="#1a1a1a" stroke-width="1.25"/>
<circle cx="418.8" cy="851.6" r="4.35" fill="#fff" stroke="#1a1a1a" stroke-width="1.25"/>
<circle cx="451.5" cy="851.0" r="4.35" fill="#fff" stroke="#1a1a1a" stroke-width="1.25"/>
<circle cx="454.4" cy="851.0" r="4.35" fill="#fff" stroke="#1a1a1a" stroke-width="1.25"/>
<circle cx="470.4" cy="830.0" r="4.35" fill="#fff" stroke="#1a1a1a" stroke-width="1.25"/>
<circle cx="468.7" cy="836.4" r="4.35" fill="#fff" stroke="#1a1a1a" stroke-width="1.25"/>
<circle cx="475.1" cy="841.1" r="4.35" fill="#fff" stroke="#1a1a1a" stroke-width="1.25"/>
<circle cx="480.4" cy="836.4" r="4.35" fill="#fff" stroke="#1a1a1a" stroke-width="1.25"/>
<circle cx="463.4" cy="844.6" r="4.35" fill="#fff" stroke="#1a1a1a" stroke-width="1.25"/>
<circle cx="485.6" cy="843.5" r="4.35" fill="#fff" stroke="#1a1a1a" stroke-width="1.25"/>
<circle cx="495.0" cy="840.0" r="4.35" fill="#fff" stroke="#1a1a1a" stroke-width="1.25"/>
<circle cx="492.0" cy="845.8" r="4.35" fill="#fff" stroke="#1a1a1a" stroke-width="1.25"/>
<circle cx="499.0" cy="849.3" r="4.35" fill="#fff" stroke="#1a1a1a" stroke-width="1.25"/>
<circle cx="489.1" cy="851.0" r="4.35" fill="#fff" stroke="#1a1a1a" stroke-width="1.25"/>
<circle cx="457.0" cy="852.2" r="4.35" fill="#fff" stroke="#1a1a1a" stroke-width="1.25"/>
<circle cx="458.8" cy="853.4" r="4.35" fill="#fff" stroke="#1a1a1a" stroke-width="1.25"/>
<circle cx="465.2" cy="852.2" r="4.35" fill="#fff" stroke="#1a1a1a" stroke-width="1.25"/>
<circle cx="143.3" cy="830.7" r="4.35" fill="#fff" stroke="#1a1a1a" stroke-width="1.25"/>
<circle cx="267.0" cy="848.7" r="4.8" fill="#ffff00" stroke="#1a1010" stroke-width="1.45"/>
<circle cx="503.7" cy="837.6" r="4.8" fill="#ffff00" stroke="#1a1010" stroke-width="1.45"/>
<circle cx="231.5" cy="823.8" r="4.8" fill="#ffa500" stroke="#1a1010" stroke-width="1.45"/>
<circle cx="233.7" cy="824.2" r="4.8" fill="#ffa500" stroke="#1a1010" stroke-width="1.45"/>
<circle cx="293.1" cy="797.0" r="4.8" fill="#ffa500" stroke="#1a1010" stroke-width="1.45"/>
<circle cx="298.8" cy="804.8" r="4.8" fill="#ffa500" stroke="#1a1010" stroke-width="1.45"/>
<circle cx="323.0" cy="796.2" r="4.8" fill="#ffa500" stroke="#1a1010" stroke-width="1.45"/>
<circle cx="333.9" cy="791.8" r="4.8" fill="#ffa500" stroke="#1a1010" stroke-width="1.45"/>
<circle cx="347.8" cy="815.9" r="4.8" fill="#ffa500" stroke="#1a1010" stroke-width="1.45"/>
<circle cx="355.3" cy="811.4" r="4.8" fill="#ffa500" stroke="#1a1010" stroke-width="1.45"/>
<circle cx="358.2" cy="816.5" r="4.8" fill="#ffa500" stroke="#1a1010" stroke-width="1.45"/>
<circle cx="363.4" cy="813.9" r="4.8" fill="#ffa500" stroke="#1a1010" stroke-width="1.45"/>
<circle cx="408.9" cy="809.9" r="4.8" fill="#ffa500" stroke="#1a1010" stroke-width="1.45"/>
<circle cx="497.9" cy="817.2" r="4.8" fill="#ffa500" stroke="#1a1010" stroke-width="1.45"/>
<circle cx="513.2" cy="817.5" r="4.8" fill="#ffa500" stroke="#1a1010" stroke-width="1.45"/>
<circle cx="536.1" cy="816.5" r="4.8" fill="#ffa500" stroke="#1a1010" stroke-width="1.45"/>
<circle cx="554.3" cy="828.2" r="4.8" fill="#ffa500" stroke="#1a1010" stroke-width="1.45"/>
<circle cx="528.7" cy="852.3" r="4.8" fill="#ffa500" stroke="#1a1010" stroke-width="1.45"/>
<circle cx="505.7" cy="836.8" r="4.8" fill="#ffa500" stroke="#1a1010" stroke-width="1.45"/>
<circle cx="88.8" cy="839.4" r="4.8" fill="#ffa500" stroke="#1a1010" stroke-width="1.45"/>
<circle cx="131.4" cy="836.4" r="4.8" fill="#ffa500" stroke="#1a1010" stroke-width="1.45"/>
<circle cx="127.9" cy="854.0" r="4.8" fill="#ffa500" stroke="#1a1010" stroke-width="1.45"/>
<circle cx="203.7" cy="849.9" r="4.8" fill="#ffa500" stroke="#1a1010" stroke-width="1.45"/>
<circle cx="209.0" cy="853.4" r="4.8" fill="#ffa500" stroke="#1a1010" stroke-width="1.45"/>
<circle cx="203.7" cy="836.4" r="4.8" fill="#ffa500" stroke="#1a1010" stroke-width="1.45"/>
<circle cx="208.4" cy="840.5" r="4.8" fill="#ffa500" stroke="#1a1010" stroke-width="1.45"/>
<circle cx="214.2" cy="839.4" r="4.8" fill="#ffa500" stroke="#1a1010" stroke-width="1.45"/>
<circle cx="222.4" cy="838.8" r="4.8" fill="#ffa500" stroke="#1a1010" stroke-width="1.45"/>
<circle cx="219.5" cy="847.0" r="4.8" fill="#ffa500" stroke="#1a1010" stroke-width="1.45"/>
<circle cx="224.7" cy="851.0" r="4.8" fill="#ffa500" stroke="#1a1010" stroke-width="1.45"/>
<circle cx="228.2" cy="850.5" r="4.8" fill="#ffa500" stroke="#1a1010" stroke-width="1.45"/>
<circle cx="277.6" cy="840.5" r="4.8" fill="#ffa500" stroke="#1a1010" stroke-width="1.45"/>
<circle cx="287.5" cy="847.0" r="4.8" fill="#ffa500" stroke="#1a1010" stroke-width="1.45"/>
<circle cx="233.2" cy="849.9" r="4.8" fill="#ffa500" stroke="#1a1010" stroke-width="1.45"/>
<circle cx="317.5" cy="829.8" r="4.8" fill="#ffa500" stroke="#1a1010" stroke-width="1.45"/>
<circle cx="337.4" cy="841.7" r="4.8" fill="#ffa500" stroke="#1a1010" stroke-width="1.45"/>
<circle cx="337.4" cy="837.6" r="4.8" fill="#ffa500" stroke="#1a1010" stroke-width="1.45"/>
<circle cx="365.4" cy="848.1" r="4.8" fill="#ffa500" stroke="#1a1010" stroke-width="1.45"/>
<circle cx="406.5" cy="830.0" r="4.8" fill="#ffa500" stroke="#1a1010" stroke-width="1.45"/>
<circle cx="427.6" cy="847.5" r="4.8" fill="#ffa500" stroke="#1a1010" stroke-width="1.45"/>
<circle cx="125.1" cy="812.8" r="4.8" fill="#ff0000" stroke="#1a1010" stroke-width="1.45"/>
<circle cx="124.0" cy="820.6" r="4.8" fill="#ff0000" stroke="#1a1010" stroke-width="1.45"/>
<circle cx="192.4" cy="819.4" r="4.8" fill="#ff0000" stroke="#1a1010" stroke-width="1.45"/>
<circle cx="215.9" cy="818.7" r="4.8" fill="#ff0000" stroke="#1a1010" stroke-width="1.45"/>
<circle cx="262.7" cy="800.7" r="4.8" fill="#ff0000" stroke="#1a1010" stroke-width="1.45"/>
<circle cx="330.3" cy="819.5" r="4.8" fill="#ff0000" stroke="#1a1010" stroke-width="1.45"/>
<circle cx="532.6" cy="833.3" r="4.8" fill="#ff0000" stroke="#1a1010" stroke-width="1.45"/>
<circle cx="564.8" cy="853.9" r="4.8" fill="#ff0000" stroke="#1a1010" stroke-width="1.45"/>
<circle cx="137.8" cy="829.4" r="4.8" fill="#ff0000" stroke="#1a1010" stroke-width="1.45"/>
<circle cx="157.1" cy="844.0" r="4.8" fill="#ff0000" stroke="#1a1010" stroke-width="1.45"/>
<circle cx="134.9" cy="854.6" r="4.8" fill="#ff0000" stroke="#1a1010" stroke-width="1.45"/>
<circle cx="161.7" cy="844.0" r="4.8" fill="#ff0000" stroke="#1a1010" stroke-width="1.45"/>
<circle cx="162.3" cy="848.7" r="4.8" fill="#ff0000" stroke="#1a1010" stroke-width="1.45"/>
<circle cx="245.4" cy="855.1" r="4.8" fill="#ff0000" stroke="#1a1010" stroke-width="1.45"/>
<circle cx="250.7" cy="842.9" r="4.8" fill="#ff0000" stroke="#1a1010" stroke-width="1.45"/>
<circle cx="318.7" cy="848.1" r="4.8" fill="#ff0000" stroke="#1a1010" stroke-width="1.45"/>
<circle cx="371.2" cy="852.8" r="4.8" fill="#ff0000" stroke="#1a1010" stroke-width="1.45"/>
<circle cx="331.0" cy="795.4" r="4.35" fill="#fff" stroke="#1a1a1a" stroke-width="1.25"/>
<circle cx="326.2" cy="802.0" r="4.35" fill="#fff" stroke="#1a1a1a" stroke-width="1.25"/>
<circle cx="325.2" cy="821.7" r="4.35" fill="#fff" stroke="#1a1a1a" stroke-width="1.25"/>
<circle cx="338.3" cy="819.5" r="4.35" fill="#fff" stroke="#1a1a1a" stroke-width="1.25"/>
<circle cx="340.5" cy="822.4" r="4.35" fill="#fff" stroke="#1a1a1a" stroke-width="1.25"/>
<circle cx="357.5" cy="824.8" r="4.35" fill="#fff" stroke="#1a1a1a" stroke-width="1.25"/>
<circle cx="414.2" cy="819.1" r="4.35" fill="#fff" stroke="#1a1a1a" stroke-width="1.25"/>
<circle cx="508.5" cy="810.6" r="4.35" fill="#fff" stroke="#1a1a1a" stroke-width="1.25"/>
<circle cx="505.2" cy="816.5" r="4.35" fill="#fff" stroke="#1a1a1a" stroke-width="1.25"/>
<circle cx="493.9" cy="821.9" r="4.35" fill="#fff" stroke="#1a1a1a" stroke-width="1.25"/>
<circle cx="498.6" cy="827.4" r="4.35" fill="#fff" stroke="#1a1a1a" stroke-width="1.25"/>
<circle cx="517.6" cy="817.2" r="4.35" fill="#fff" stroke="#1a1a1a" stroke-width="1.25"/>
<circle cx="522.7" cy="815.0" r="4.35" fill="#fff" stroke="#1a1a1a" stroke-width="1.25"/>
<circle cx="511.8" cy="821.6" r="4.35" fill="#fff" stroke="#1a1a1a" stroke-width="1.25"/>
<circle cx="520.5" cy="823.8" r="4.35" fill="#fff" stroke="#1a1a1a" stroke-width="1.25"/>
<circle cx="525.6" cy="822.3" r="4.35" fill="#fff" stroke="#1a1a1a" stroke-width="1.25"/>
<circle cx="511.8" cy="826.0" r="4.35" fill="#fff" stroke="#1a1a1a" stroke-width="1.25"/>
<circle cx="539.0" cy="816.5" r="4.35" fill="#fff" stroke="#1a1a1a" stroke-width="1.25"/>
<circle cx="542.6" cy="817.2" r="4.35" fill="#fff" stroke="#1a1a1a" stroke-width="1.25"/>
<circle cx="546.0" cy="819.8" r="4.35" fill="#fff" stroke="#1a1a1a" stroke-width="1.25"/>
<circle cx="538.2" cy="824.5" r="4.35" fill="#fff" stroke="#1a1a1a" stroke-width="1.25"/>
<circle cx="562.3" cy="825.2" r="4.35" fill="#fff" stroke="#1a1a1a" stroke-width="1.25"/>
<circle cx="540.2" cy="834.8" r="4.35" fill="#fff" stroke="#1a1a1a" stroke-width="1.25"/>
<circle cx="565.4" cy="850.6" r="4.35" fill="#fff" stroke="#1a1a1a" stroke-width="1.25"/>
<circle cx="586.5" cy="848.6" r="4.35" fill="#fff" stroke="#1a1a1a" stroke-width="1.25"/>
<circle cx="146.6" cy="831.2" r="4.35" fill="#fff" stroke="#1a1a1a" stroke-width="1.25"/>
<circle cx="91.7" cy="837.0" r="4.35" fill="#fff" stroke="#1a1a1a" stroke-width="1.25"/>
<circle cx="136.1" cy="842.9" r="4.35" fill="#fff" stroke="#1a1a1a" stroke-width="1.25"/>
<circle cx="131.4" cy="849.3" r="4.35" fill="#fff" stroke="#1a1a1a" stroke-width="1.25"/>
<circle cx="139.6" cy="848.7" r="4.35" fill="#fff" stroke="#1a1a1a" stroke-width="1.25"/>
<circle cx="150.1" cy="849.9" r="4.35" fill="#fff" stroke="#1a1a1a" stroke-width="1.25"/>
<circle cx="154.7" cy="852.2" r="4.35" fill="#fff" stroke="#1a1a1a" stroke-width="1.25"/>
<circle cx="169.9" cy="843.5" r="4.35" fill="#fff" stroke="#1a1a1a" stroke-width="1.25"/>
<circle cx="179.8" cy="843.5" r="4.35" fill="#fff" stroke="#1a1a1a" stroke-width="1.25"/>
<circle cx="188.5" cy="850.5" r="4.35" fill="#fff" stroke="#1a1a1a" stroke-width="1.25"/>
<circle cx="255.4" cy="841.7" r="4.35" fill="#fff" stroke="#1a1a1a" stroke-width="1.25"/>
<circle cx="244.3" cy="848.1" r="4.35" fill="#fff" stroke="#1a1a1a" stroke-width="1.25"/>
<circle cx="257.1" cy="848.7" r="4.35" fill="#fff" stroke="#1a1a1a" stroke-width="1.25"/>
<circle cx="250.1" cy="852.8" r="4.35" fill="#fff" stroke="#1a1a1a" stroke-width="1.25"/>
<circle cx="314.0" cy="851.0" r="4.35" fill="#fff" stroke="#1a1a1a" stroke-width="1.25"/>
<circle cx="360.1" cy="851.0" r="4.35" fill="#fff" stroke="#1a1a1a" stroke-width="1.25"/>
<circle cx="375.9" cy="853.4" r="4.35" fill="#fff" stroke="#1a1a1a" stroke-width="1.25"/>
<circle cx="379.4" cy="852.2" r="4.35" fill="#fff" stroke="#1a1a1a" stroke-width="1.25"/>
<circle cx="400.7" cy="834.1" r="4.35" fill="#fff" stroke="#1a1a1a" stroke-width="1.25"/>
<circle cx="413.5" cy="834.1" r="4.35" fill="#fff" stroke="#1a1a1a" stroke-width="1.25"/>
<circle cx="432.2" cy="852.2" r="4.35" fill="#fff" stroke="#1a1a1a" stroke-width="1.25"/>
<circle cx="438.1" cy="849.9" r="4.35" fill="#fff" stroke="#1a1a1a" stroke-width="1.25"/>
<circle cx="502.6" cy="837.0" r="4.35" fill="#fff" stroke="#1a1a1a" stroke-width="1.25"/>
<line x1="66.7" x2="680.0" y1="667.19" y2="667.19" stroke="#1a1a1a" stroke-width="1.8"/>
<line x1="66.7" x2="680.0" y1="707.17" y2="707.17" stroke="#4fe04f" stroke-width="1.9"/>
<rect x="89.3" y="546.1999999999999" width="87.7" height="155.7" fill="#fff" stroke="#222" stroke-width="1.3"/>
<text x="126.6" y="568.5999999999999" font-family='"Liberation Sans", sans-serif' font-size="18.5" fill="#111">r</text>
<text x="132.8" y="560.5" font-family='"Liberation Sans", sans-serif' font-size="13" fill="#111">2</text>
<rect x="106" y="585.95" width="13.6" height="10.2" fill="#ff0000" stroke="#111" stroke-width="1.1"/>
<text x="136.3" y="598.15" font-family='"Liberation Sans", sans-serif' font-size="18.8" fill="#111">0.8-</text>
<rect x="106" y="608.25" width="13.6" height="10.2" fill="#ffa500" stroke="#111" stroke-width="1.1"/>
<text x="136.3" y="620.45" font-family='"Liberation Sans", sans-serif' font-size="18.8" fill="#111">0.5-</text>
<rect x="106" y="630.55" width="13.6" height="10.2" fill="#ffff00" stroke="#111" stroke-width="1.1"/>
<text x="136.3" y="642.75" font-family='"Liberation Sans", sans-serif' font-size="18.8" fill="#111">0.2-</text>
<rect x="106" y="652.85" width="13.6" height="10.2" fill="#bebebe" stroke="#111" stroke-width="1.1"/>
<text x="136.3" y="665.05" font-family='"Liberation Sans", sans-serif' font-size="18.8" fill="#111">0.0-</text>
<rect x="106" y="675.15" width="13.6" height="10.2" fill="#ffffff" stroke="#111" stroke-width="1.1"/>
<text x="136.3" y="687.35" font-family='"Liberation Sans", sans-serif' font-size="18.8" fill="#111">NA</text>
<rect x="66.7" y="531.0" width="613.3" height="414.9" fill="none" stroke="#222" stroke-width="1.3"/>
<line x1="55.3" x2="66.7" y1="853.90" y2="853.90" stroke="#222" stroke-width="1.3"/>
<text x="44.6" y="868.20" text-anchor="end" font-family='"Liberation Sans", sans-serif' font-size="19" fill="#111">0</text>
<line x1="55.3" x2="66.7" y1="792.38" y2="792.38" stroke="#222" stroke-width="1.3"/>
<text x="44.6" y="806.68" text-anchor="end" font-family='"Liberation Sans", sans-serif' font-size="19" fill="#111">2</text>
<line x1="55.3" x2="66.7" y1="730.86" y2="730.86" stroke="#222" stroke-width="1.3"/>
<text x="44.6" y="745.16" text-anchor="end" font-family='"Liberation Sans", sans-serif' font-size="19" fill="#111">4</text>
<line x1="55.3" x2="66.7" y1="669.34" y2="669.34" stroke="#222" stroke-width="1.3"/>
<text x="44.6" y="683.64" text-anchor="end" font-family='"Liberation Sans", sans-serif' font-size="19" fill="#111">6</text>
<line x1="55.3" x2="66.7" y1="607.82" y2="607.82" stroke="#222" stroke-width="1.3"/>
<text x="44.6" y="622.12" text-anchor="end" font-family='"Liberation Sans", sans-serif' font-size="19" fill="#111">8</text>
<line x1="55.3" x2="66.7" y1="546.30" y2="546.30" stroke="#222" stroke-width="1.3"/>
<text x="44.6" y="560.60" text-anchor="end" font-family='"Liberation Sans", sans-serif' font-size="19" fill="#111">10</text>
<line x1="250.10" x2="250.10" y1="945.9" y2="957.3" stroke="#222" stroke-width="1.3"/>
<text x="250.10" y="986.0999999999999" text-anchor="middle" font-family='"Liberation Sans", sans-serif' font-size="19" fill="#111">171200</text>
<line x1="331.40" x2="331.40" y1="945.9" y2="957.3" stroke="#222" stroke-width="1.3"/>
<text x="331.40" y="986.0999999999999" text-anchor="middle" font-family='"Liberation Sans", sans-serif' font-size="19" fill="#111">171300</text>
<line x1="412.70" x2="412.70" y1="945.9" y2="957.3" stroke="#222" stroke-width="1.3"/>
<text x="412.70" y="986.0999999999999" text-anchor="middle" font-family='"Liberation Sans", sans-serif' font-size="19" fill="#111">171400</text>
<line x1="494.00" x2="494.00" y1="945.9" y2="957.3" stroke="#222" stroke-width="1.3"/>
<text x="494.00" y="986.0999999999999" text-anchor="middle" font-family='"Liberation Sans", sans-serif' font-size="19" fill="#111">171500</text>
<line x1="575.30" x2="575.30" y1="945.9" y2="957.3" stroke="#222" stroke-width="1.3"/>
<text x="575.30" y="986.0999999999999" text-anchor="middle" font-family='"Liberation Sans", sans-serif' font-size="19" fill="#111">171600</text>
<text x="373.5" y="1019.6999999999999" text-anchor="middle" font-family='"Liberation Sans", sans-serif' font-size="18.8" fill="#111">Chromosome 1 position (kb)</text>
<text transform="translate(17.1 699.9) rotate(-90)" text-anchor="middle" font-family='"Liberation Sans", sans-serif' font-size="18.8" fill="#111">-log10(Observed p)</text>
<text x="286.1" y="765.7" font-family='"Liberation Serif", serif' font-size="18.6" fill="#111">rs313710490</text>
<text x="371.6" y="797.6" font-family='"Liberation Sans", sans-serif' font-size="18.6" fill="#111">P=0.006609698</text>
<line x1="210.5" x2="281" y1="910.4" y2="910.4" stroke="#0a650a" stroke-width="2.1"/><polygon points="277.4,906.8 283.7,910.4 277.4,914.0 279.4,910.4" fill="#0a650a" stroke="#0a650a" stroke-width="0.9" stroke-linejoin="round"/>
<text x="247" y="905.1999999999999" text-anchor="middle" font-family='"Liberation Sans", sans-serif' font-size="12.8" fill="#111">TRPC4</text>
<line x1="306.5" x2="310.5" y1="869.7" y2="869.7" stroke="#0a650a" stroke-width="2.1"/><polygon points="306.9,866.1 313.2,869.7 306.9,873.3000000000001 308.9,869.7" fill="#0a650a" stroke="#0a650a" stroke-width="0.9" stroke-linejoin="round"/>
<text x="310.4" y="865.2" text-anchor="middle" font-family='"Liberation Sans", sans-serif' font-size="12.8" fill="#111">LOC101751001</text>
<line x1="303" x2="306.5" y1="889.5" y2="889.5" stroke="#0a650a" stroke-width="2.1"/><polygon points="302.9,885.9 309.2,889.5 302.9,893.1 304.9,889.5" fill="#0a650a" stroke="#0a650a" stroke-width="0.9" stroke-linejoin="round"/>
<text x="306" y="885.1" text-anchor="middle" font-family='"Liberation Sans", sans-serif' font-size="12.8" fill="#111">LOC101750792</text>
<line x1="326" x2="351" y1="930.9" y2="930.9" stroke="#0a650a" stroke-width="2.1"/><polygon points="347.4,927.3 353.7,930.9 347.4,934.5 349.4,930.9" fill="#0a650a" stroke="#0a650a" stroke-width="0.9" stroke-linejoin="round"/>
<text x="339.4" y="926.0" text-anchor="middle" font-family='"Liberation Sans", sans-serif' font-size="12.8" fill="#111">POSTN</text>
<line x1="592" x2="606" y1="869.7" y2="869.7" stroke="#0a650a" stroke-width="2.1"/><polygon points="602.4,866.1 608.7,869.7 602.4,873.3000000000001 604.4,869.7" fill="#0a650a" stroke="#0a650a" stroke-width="0.9" stroke-linejoin="round"/>
<text x="600.5" y="865.6" text-anchor="middle" font-family='"Liberation Sans", sans-serif' font-size="12.8" fill="#111">ALG5</text>
<line x1="588.3" x2="593.4" y1="889.5" y2="889.5" stroke="#0a650a" stroke-width="2.1"/><polygon points="591.9,885.9 585.5999999999999,889.5 591.9,893.1 589.9,889.5" fill="#0a650a" stroke="#0a650a" stroke-width="0.9" stroke-linejoin="round"/>
<text x="589.5" y="885.0" text-anchor="middle" font-family='"Liberation Sans", sans-serif' font-size="12.8" fill="#111">EXOSC8</text>
<line x1="558" x2="583.5" y1="910.4" y2="910.4" stroke="#0a650a" stroke-width="2.1"/><polygon points="579.9,906.8 586.2,910.4 579.9,914.0 581.9,910.4" fill="#0a650a" stroke="#0a650a" stroke-width="0.9" stroke-linejoin="round"/>
<text x="572" y="905.8" text-anchor="middle" font-family='"Liberation Sans", sans-serif' font-size="12.8" fill="#111">SUPT20H</text>
<line x1="640" x2="656" y1="930.9" y2="930.9" stroke="#0a650a" stroke-width="2.1"/><polygon points="652.4,927.3 658.7,930.9 652.4,934.5 654.4,930.9" fill="#0a650a" stroke="#0a650a" stroke-width="0.9" stroke-linejoin="round"/>
<text x="657.2" y="925.9" text-anchor="middle" font-family='"Liberation Sans", sans-serif' font-size="12.8" fill="#111">SMAD9</text>
</svg></body></html>
